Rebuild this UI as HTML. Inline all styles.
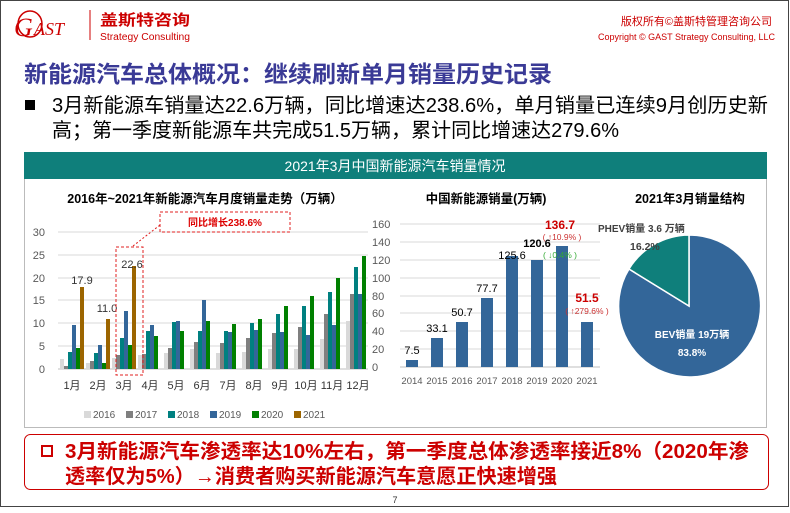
<!DOCTYPE html>
<html><head><meta charset="utf-8"><style>
body{margin:0;width:790px;height:508px;overflow:hidden;background:#fff;font-family:"Liberation Sans","Noto Sans CJK SC",sans-serif}
</style></head><body>
<svg width="790" height="508" viewBox="0 0 790 508" xmlns="http://www.w3.org/2000/svg" font-family="Liberation Sans, Noto Sans CJK SC, sans-serif">
<rect x="0.5" y="0.5" width="788" height="506" fill="#fff" stroke="#444" stroke-width="1"/>
<!-- logo -->
<ellipse cx="30" cy="24" rx="12" ry="13" fill="none" stroke="#c00" stroke-width="1.5"/>
<text x="14" y="36" font-family="Liberation Serif, serif" font-style="italic" font-size="26" fill="#c00">G</text>
<text x="34" y="35" font-family="Liberation Serif, serif" font-style="italic" font-size="18" fill="#c00">AST</text>
<line x1="90" y1="10" x2="90" y2="40" stroke="#c00" stroke-width="1"/>
<text x="100" y="25" font-size="15" font-weight="bold" fill="#c00" textLength="90" lengthAdjust="spacingAndGlyphs">盖斯特咨询</text>
<text x="100" y="40" font-size="10" fill="#c00" textLength="90" lengthAdjust="spacingAndGlyphs">Strategy Consulting</text>
<text x="772" y="25" font-size="11" fill="#c00" text-anchor="end">版权所有©盖斯特管理咨询公司</text>
<text x="775" y="40" font-size="9" fill="#c00" text-anchor="end">Copyright © GAST Strategy Consulting, LLC</text>
<!-- title -->
<text x="24" y="82" font-size="23" font-weight="bold" fill="#3a3a96" textLength="528" lengthAdjust="spacingAndGlyphs">新能源汽车总体概况：继续刷新单月销量历史记录</text>
<rect x="25" y="100" width="10" height="10" fill="#000"/>
<text x="52" y="112" font-size="20" fill="#000" textLength="716" lengthAdjust="spacingAndGlyphs">3月新能源车销量达22.6万辆，同比增速达238.6%，单月销量已连续9月创历史新</text>
<text x="52" y="137" font-size="20" fill="#000" textLength="567" lengthAdjust="spacingAndGlyphs">高；第一季度新能源车共完成51.5万辆，累计同比增速达279.6%</text>
<!-- teal bar + panel -->
<rect x="24.5" y="178.5" width="742" height="249" fill="#fff" stroke="#bbb"/>
<rect x="24" y="152" width="743" height="27" fill="#0f7f7b"/>
<text x="395" y="171" font-size="14" fill="#fff" text-anchor="middle">2021年3月中国新能源汽车销量情况</text>

<!-- LEFT CHART -->
<text x="205" y="203" font-size="12.5" font-weight="bold" fill="#000" text-anchor="middle">2016年~2021年新能源汽车月度销量走势（万辆）</text>
<g stroke="#d9d9d9" stroke-width="1">
<line x1="58" y1="346" x2="368" y2="346"/><line x1="58" y1="323" x2="368" y2="323"/><line x1="58" y1="300" x2="368" y2="300"/><line x1="58" y1="278" x2="368" y2="278"/><line x1="58" y1="255" x2="368" y2="255"/><line x1="58" y1="232" x2="368" y2="232"/>
<line x1="58" y1="369" x2="368" y2="369" stroke="#bfbfbf"/>
</g>
<g font-size="11" fill="#595959" text-anchor="end">
<text x="45" y="373">0</text><text x="45" y="350">5</text><text x="45" y="327">10</text><text x="45" y="304">15</text><text x="45" y="282">20</text><text x="45" y="259">25</text><text x="45" y="236">30</text>
</g>
<g font-size="11" fill="#595959">
<text x="372" y="371">0</text><text x="372" y="353">20</text><text x="372" y="335">40</text><text x="372" y="317">60</text><text x="372" y="300">80</text><text x="372" y="282">100</text><text x="372" y="264">120</text><text x="372" y="246">140</text><text x="372" y="228">160</text>
</g>
<g>
<g fill="#d9d9d9">
<rect x="60" y="359" width="4" height="10"/><rect x="86" y="363" width="4" height="6"/><rect x="112" y="358" width="4" height="11"/><rect x="138" y="355" width="4" height="14"/><rect x="164" y="353" width="4" height="16"/><rect x="190" y="349" width="4" height="20"/><rect x="216" y="353" width="4" height="16"/><rect x="242" y="352" width="4" height="17"/><rect x="268" y="349" width="4" height="20"/><rect x="294" y="349" width="4" height="20"/><rect x="320" y="339" width="4" height="30"/><rect x="346" y="321" width="4" height="48"/>
</g>
<g fill="#7f7f7f">
<rect x="64" y="366" width="4" height="3"/><rect x="90" y="361" width="4" height="8"/><rect x="116" y="355" width="4" height="14"/><rect x="142" y="354" width="4" height="15"/><rect x="168" y="348" width="4" height="21"/><rect x="194" y="342" width="4" height="27"/><rect x="220" y="343" width="4" height="26"/><rect x="246" y="338" width="4" height="31"/><rect x="272" y="333" width="4" height="36"/><rect x="298" y="327" width="4" height="42"/><rect x="324" y="314" width="4" height="55"/><rect x="350" y="294" width="4" height="75"/>
</g>
<g fill="#008080">
<rect x="68" y="352" width="4" height="17"/><rect x="94" y="353" width="4" height="16"/><rect x="120" y="338" width="4" height="31"/><rect x="146" y="331" width="4" height="38"/><rect x="172" y="322" width="4" height="47"/><rect x="198" y="331" width="4" height="38"/><rect x="224" y="331" width="4" height="38"/><rect x="250" y="323" width="4" height="46"/><rect x="276" y="314" width="4" height="55"/><rect x="302" y="306" width="4" height="63"/><rect x="328" y="292" width="4" height="77"/><rect x="354" y="267" width="4" height="102"/>
</g>
<g fill="#336699">
<rect x="72" y="325" width="4" height="44"/><rect x="98" y="345" width="4" height="24"/><rect x="124" y="311" width="4" height="58"/><rect x="150" y="325" width="4" height="44"/><rect x="176" y="321" width="4" height="48"/><rect x="202" y="300" width="4" height="69"/><rect x="228" y="332" width="4" height="37"/><rect x="254" y="330" width="4" height="39"/><rect x="280" y="332" width="4" height="37"/><rect x="306" y="335" width="4" height="34"/><rect x="332" y="325" width="4" height="44"/><rect x="358" y="294" width="4" height="75"/>
</g>
<g fill="#008000">
<rect x="76" y="348" width="4" height="21"/><rect x="102" y="363" width="4" height="6"/><rect x="128" y="345" width="4" height="24"/><rect x="154" y="336" width="4" height="33"/><rect x="180" y="331" width="4" height="38"/><rect x="206" y="321" width="4" height="48"/><rect x="232" y="324" width="4" height="45"/><rect x="258" y="319" width="4" height="50"/><rect x="284" y="306" width="4" height="63"/><rect x="310" y="296" width="4" height="73"/><rect x="336" y="278" width="4" height="91"/><rect x="362" y="256" width="4" height="113"/>
</g>
<g fill="#9c6500">
<rect x="80" y="287" width="4" height="82"/><rect x="106" y="319" width="4" height="50"/><rect x="132" y="266" width="4" height="103"/>
</g>
</g>
<g font-size="11" fill="#333" text-anchor="middle">
<text x="82" y="284">17.9</text><text x="107" y="312">11.0</text><text x="132" y="268">22.6</text>
</g>
<g font-size="11" fill="#333" text-anchor="middle">
<text x="72" y="389">1月</text><text x="98" y="389">2月</text><text x="124" y="389">3月</text><text x="150" y="389">4月</text><text x="176" y="389">5月</text><text x="202" y="389">6月</text><text x="228" y="389">7月</text><text x="254" y="389">8月</text><text x="280" y="389">9月</text><text x="306" y="389">10月</text><text x="332" y="389">11月</text><text x="358" y="389">12月</text>
</g>
<rect x="116" y="247" width="27" height="128" fill="none" stroke="#e02020" stroke-dasharray="3,2"/>
<line x1="133" y1="246" x2="160" y2="225" stroke="#e02020" stroke-dasharray="2,2"/>
<rect x="160" y="212" width="130" height="20" fill="none" stroke="#e02020" stroke-dasharray="3,2"/>
<text x="225" y="226" font-size="10" font-weight="bold" fill="#d00" text-anchor="middle">同比增长238.6%</text>
<g font-size="10" fill="#595959">
<rect x="84" y="411" width="7" height="7" fill="#d9d9d9"/><text x="93" y="418">2016</text>
<rect x="126" y="411" width="7" height="7" fill="#7f7f7f"/><text x="135" y="418">2017</text>
<rect x="168" y="411" width="7" height="7" fill="#008080"/><text x="177" y="418">2018</text>
<rect x="210" y="411" width="7" height="7" fill="#336699"/><text x="219" y="418">2019</text>
<rect x="252" y="411" width="7" height="7" fill="#008000"/><text x="261" y="418">2020</text>
<rect x="294" y="411" width="7" height="7" fill="#9c6500"/><text x="303" y="418">2021</text>
</g>

<!-- MIDDLE CHART -->
<text x="486" y="203" font-size="12.5" font-weight="bold" fill="#000" text-anchor="middle">中国新能源销量(万辆)</text>
<g stroke="#d9d9d9">
<line x1="400" y1="224" x2="600" y2="224"/><line x1="400" y1="242" x2="600" y2="242"/><line x1="400" y1="260" x2="600" y2="260"/><line x1="400" y1="278" x2="600" y2="278"/><line x1="400" y1="296" x2="600" y2="296"/><line x1="400" y1="313" x2="600" y2="313"/><line x1="400" y1="331" x2="600" y2="331"/><line x1="400" y1="349" x2="600" y2="349"/><line x1="400" y1="367" x2="600" y2="367" stroke="#bfbfbf"/>
</g>
<g fill="#336699">
<rect x="406" y="360" width="12" height="7"/><rect x="431" y="338" width="12" height="29"/><rect x="456" y="322" width="12" height="45"/><rect x="481" y="298" width="12" height="69"/><rect x="506" y="256" width="12" height="111"/><rect x="531" y="260" width="12" height="107"/><rect x="556" y="246" width="12" height="121"/><rect x="581" y="322" width="12" height="45"/>
</g>
<g font-size="11" fill="#000" text-anchor="middle">
<text x="412" y="354">7.5</text><text x="437" y="332">33.1</text><text x="462" y="316">50.7</text><text x="487" y="292">77.7</text><text x="512" y="259">125.6</text>
<text x="537" y="247" font-weight="bold">120.6</text>
</g>
<text x="560" y="258" font-size="8.5" fill="#3a3" text-anchor="middle">( ↓0.4% )</text>
<text x="560" y="229" font-size="12" font-weight="bold" fill="#c00" text-anchor="middle">136.7</text>
<text x="562" y="240" font-size="8.5" fill="#c33" text-anchor="middle">( ↑10.9% )</text>
<text x="587" y="302" font-size="12" font-weight="bold" fill="#c00" text-anchor="middle">51.5</text>
<text x="587" y="314" font-size="8.5" fill="#c33" text-anchor="middle">( ↑279.6% )</text>
<g font-size="9.5" fill="#595959" text-anchor="middle">
<text x="412" y="384">2014</text><text x="437" y="384">2015</text><text x="462" y="384">2016</text><text x="487" y="384">2017</text><text x="512" y="384">2018</text><text x="537" y="384">2019</text><text x="562" y="384">2020</text><text x="587" y="384">2021</text>
</g>

<!-- PIE -->
<text x="690" y="203" font-size="12.5" font-weight="bold" fill="#000" text-anchor="middle">2021年3月销量结构</text>
<path d="M689,306 L689,235 A71,71 0 1,1 629,269 Z" fill="#336699" stroke="#fff" stroke-width="1.5"/>
<path d="M689,306 L629,269 A71,71 0 0,1 689,235 Z" fill="#0f7f7b" stroke="#fff" stroke-width="1.5"/>
<text x="598" y="232" font-size="10" font-weight="bold" fill="#404040">PHEV销量 3.6 万辆</text>
<text x="630" y="250" font-size="10.5" font-weight="bold" fill="#404040">16.2%</text>
<text x="692" y="338" font-size="10" font-weight="bold" fill="#fff" text-anchor="middle">BEV销量 19万辆</text>
<text x="692" y="356" font-size="10" font-weight="bold" fill="#fff" text-anchor="middle">83.8%</text>

<!-- bottom box -->
<rect x="24.5" y="434.5" width="744" height="55" rx="6" fill="#fff" stroke="#c00" stroke-width="1"/>
<rect x="42" y="446" width="10" height="10" fill="none" stroke="#c00" stroke-width="2"/>
<text x="65" y="458" font-size="20" font-weight="bold" fill="#c00" textLength="684" lengthAdjust="spacingAndGlyphs">3月新能源汽车渗透率达10%左右，第一季度总体渗透率接近8%（2020年渗</text>
<text x="65" y="483" font-size="20" font-weight="bold" fill="#c00" textLength="492" lengthAdjust="spacingAndGlyphs">透率仅为5%）→消费者购买新能源汽车意愿正快速增强</text>
<text x="395" y="503" font-size="9" fill="#333" text-anchor="middle">7</text>
</svg>
</body></html>
